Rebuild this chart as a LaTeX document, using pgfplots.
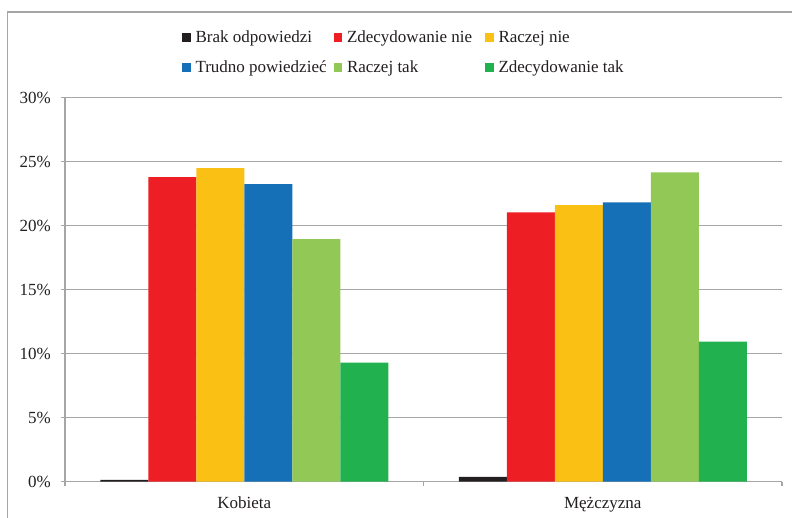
\documentclass[border=0pt]{standalone}
\usepackage{fontspec}
\setmainfont{Liberation Serif}
\usepackage{pgfplots}
\pgfplotsset{compat=1.18}
\definecolor{cBlack}{HTML}{231F20}
\definecolor{cRed}{HTML}{ED1F24}
\definecolor{cYellow}{HTML}{FBC014}
\definecolor{cBlue}{HTML}{1570B7}
\definecolor{cLGreen}{HTML}{92C855}
\definecolor{cGreen}{HTML}{21B24F}
\definecolor{cGray}{HTML}{A6A6A6}
\definecolor{cText}{HTML}{231F20}
\begin{document}
\begin{tikzpicture}[font=\fontsize{17}{20}\selectfont, text=cText]
\useasboundingbox (0pt,0pt) rectangle (792pt,-518pt);
\begin{scope}
\clip (0pt,0pt) rectangle (792pt,-518pt);
\draw[cGray, line width=1.2pt] (7.3pt,-12pt) rectangle (900pt,-600pt);
\end{scope}
\begin{axis}[
  at={(65pt,-481.7pt)}, anchor=south west,
  scale only axis, width=717pt, height=384pt,
  ybar=0pt, bar width=48pt,
  xmin=-0.5, xmax=1.5, ymin=0, ymax=30,
  axis x line*=bottom, axis y line*=left,
  axis line style={cGray, line width=1.2pt, -},
  xtick={-0.5,0.5,1.5}, xticklabels={},
  extra x ticks={0,1}, extra x tick labels={Kobieta,Mężczyzna},
  extra x tick style={major tick length=0pt, grid=none},
  ytick={0,5,10,15,20,25,30},
  yticklabel={\pgfmathprintnumber{\tick}\%},
  /pgf/number format/assume math mode=true,
  ymajorgrids, major grid style={cGray, line width=1.2pt},
  tick style={cGray, line width=1.2pt},
  major tick length=4pt, tick align=outside,
  yticklabel style={anchor=east, inner sep=0pt, xshift=-10pt},
  xticklabel style={anchor=north, inner sep=0pt, yshift=-15pt},
  legend columns=3,
  legend style={draw=none, at={(0.1632,1.1737)}, anchor=north west,
    inner sep=0pt, outer sep=0pt, column sep=0pt, row sep=14pt,
    nodes={inner xsep=5pt, inner ysep=0pt, text height=12pt, text depth=4pt, anchor=base west}},
  legend image code/.code={\fill[#1] (0pt,1pt) rectangle (8.5pt,9.5pt);},
]
\addplot[fill=cBlack, draw=none] coordinates {(0,0.15) (1,0.37)};
\addlegendentry{\makebox[133pt][l]{Brak odpowiedzi}}
\addplot[fill=cRed, draw=none] coordinates {(0,23.8) (1,21.05)};
\addlegendentry{\makebox[133pt][l]{Zdecydowanie nie}}
\addplot[fill=cYellow, draw=none] coordinates {(0,24.5) (1,21.6)};
\addlegendentry{\makebox[133pt][l]{Raczej nie}}
\addplot[fill=cBlue, draw=none] coordinates {(0,23.25) (1,21.83)};
\addlegendentry{\makebox[133pt][l]{Trudno powiedzieć}}
\addplot[fill=cLGreen, draw=none] coordinates {(0,18.95) (1,24.17)};
\addlegendentry{\makebox[133pt][l]{Raczej tak}}
\addplot[fill=cGreen, draw=none] coordinates {(0,9.3) (1,10.95)};
\addlegendentry{\makebox[133pt][l]{Zdecydowanie tak}}
\end{axis}
\end{tikzpicture}
\end{document}
